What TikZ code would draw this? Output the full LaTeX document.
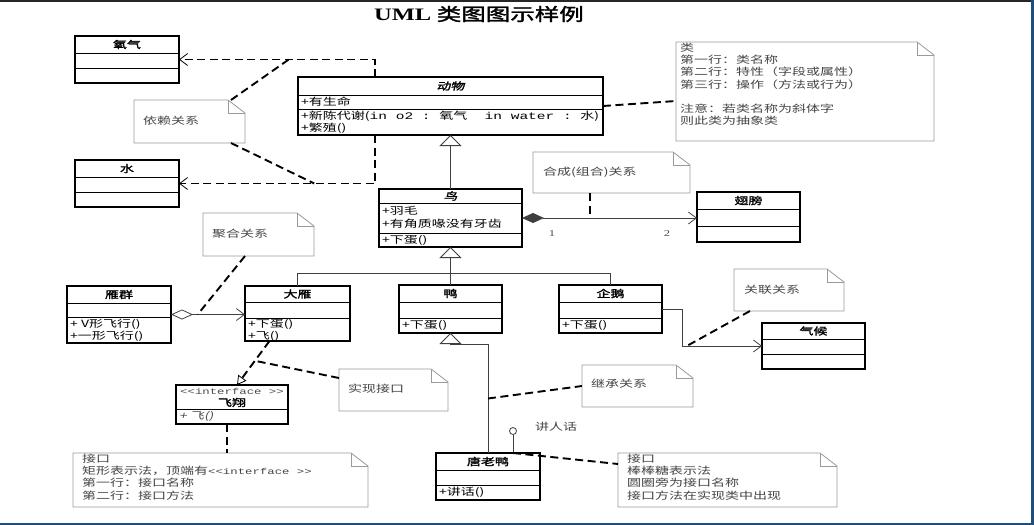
\documentclass[tikz,border=0pt]{standalone}
\usepackage{fontspec}
\setmainfont{Noto Sans CJK SC}[FakeStretch=1.4,AutoFakeSlant=0.22,AutoFakeBold=1.8]
\newfontfamily\serifnum{Liberation Serif}[FakeStretch=1.4]
\newfontfamily\monolatin{Liberation Mono}[FakeStretch=1.45]
\usetikzlibrary{arrows.meta,calc}
\definecolor{notegray}{HTML}{9A9A9A}
\definecolor{notetext}{HTML}{444444}
\definecolor{frameblue}{HTML}{1E4E7C}
% stereotype text, typed without the << ligature
\newcommand\stereo{{\monolatin\fontsize{8.5}{10}\selectfont<{}<interface~>{}>}}
% class box: name, left, top, right, bottom, first divider, second divider, title
\newcommand\umlclass[8]{%
  \node[cls,minimum width={#4-#2},minimum height={#5-#3}] (#1) at ({(#2+#4)/2},{(#3+#5)/2}) {};
  \draw[clsdiv] (#2,#6) -- (#4,#6) (#2,#7) -- (#4,#7);
  \node[cname] at ({(#2+#4)/2},{(#3+#6)/2}) {#8};}
% note with folded corner: name, left, top, right, bottom
\newcommand\umlnote[5]{%
  \node[notebox,minimum width={#4-#2},minimum height={#5-#3}] (#1) at ({(#2+#4)/2},{(#3+#5)/2}) {};
  \draw[noteline] (#1.north west) -- ($(#1.north east)+(-17,0)$) -- ($(#1.north east)+(0,13)$)
    -- (#1.south east) -- (#1.south west) -- cycle;
  \draw[noteline] ($(#1.north east)+(-17,0)$) -- ($(#1.north east)+(-17,13)$) -- ($(#1.north east)+(0,13)$);}
\begin{document}
\begin{tikzpicture}[x=1pt,y=-1pt,
  cls/.style={draw=black,line width=1.1pt,inner sep=0pt,outer sep=0pt},
  clsdiv/.style={line width=1pt},
  cname/.style={inner sep=0pt,font=\fontsize{10}{12}\selectfont\bfseries},
  member/.style={inner sep=0pt,anchor=west,font=\fontsize{10}{12}\selectfont},
  notebox/.style={inner sep=0pt,outer sep=0pt},
  noteline/.style={draw=notegray,line width=0.8pt},
  notetxt/.style={inner sep=0pt,anchor=north west,align=left,text=notetext,font=\fontsize{10}{12.2}\selectfont},
  dashlink/.style={line width=1.9pt,dash pattern=on 8pt off 4.5pt},
  solidlink/.style={draw=black!75,line width=0.8pt},
  opentip/.style={-{Straight Barb[length=8pt,width=12pt,line width=0.8pt]}},
  gentip/.style={-{Triangle[open,length=11pt,width=22pt,line width=0.8pt]}},
]
\useasboundingbox (0,0) rectangle (1034,525);
\fill[white] (0,0) rectangle (1034,525);
% frame edges
\fill[black!85] (0,0) rectangle (1034,1.8);
\fill[frameblue] (1030.5,0) rectangle (1034,525);
\fill[frameblue] (0,522.5) rectangle (1034,525);

% title
\node[inner sep=0pt,font=\fontsize{17.5}{20}\selectfont\bfseries] (title) at (479,14) {{\serifnum UML} 类图图示样例};

% classes
\umlclass{oxygen}{75}{36}{179}{83}{53}{68}{氧气}
\umlclass{water}{75}{160}{179}{207}{177}{192}{水}
\umlclass{animal}{298}{77}{603}{135}{95}{109}{\itshape 动物}
\node[member] at (301,102) {+有生命};
\node[member] at (301,116) {+新陈代谢({\monolatin in o2~:~}氧气{\monolatin ~~in water~:~}水)};
\node[member] at (301,128) {+繁殖()};
\umlclass{bird}{379}{189}{522}{247}{203}{233}{\itshape 鸟}
\node[member] at (382,211) {+羽毛};
\node[member] at (382,224) {+有角质喙没有牙齿};
\node[member] at (382,240) {+下蛋()};
\umlclass{wing}{697}{192}{800}{242}{209}{226}{翅膀}
\umlclass{geese}{67}{286}{171}{343}{303}{317}{雁群}
\node[member] at (70,324) {+\ V形飞行()};
\node[member] at (70,336) {+一形飞行()};
\umlclass{goose}{245}{286}{350}{341}{302}{318}{大雁}
\node[member] at (248,324) {+下蛋()};
\node[member] at (248,336) {+飞()};
\umlclass{duck}{399}{285}{502}{333}{302}{318}{鸭}
\node[member] at (402,325) {+下蛋()};
\umlclass{penguin}{559}{285}{662}{333}{302}{318}{企鹅}
\node[member] at (562,325) {+下蛋()};
\umlclass{climate}{762}{323}{865}{369}{339}{354}{气候}
\umlclass{donald}{436}{453}{540}{500}{470}{485}{唐老鸭}
\node[member] at (439,492) {+讲话()};
% interface box
\node[cls,minimum width=112,minimum height=39] (flying) at (232,404.5) {};
\draw[clsdiv] (176,409) -- (288,409);
\node[inner sep=0pt,text=black!70] at (232,391) {\stereo};
\node[cname] at (232,402.5) {飞翔};
\node[member,text=black!70] at (179,416.5) {\itshape + 飞()};

% notes
\umlnote{nDep}{134}{100}{245}{143}
\node[notetxt,anchor=west] at (143,121) {依赖关系};
\umlnote{nClass}{676}{42}{934}{141}
\node[notetxt] at (680,43) {类\\第一行：类名称\\第二行：特性（字段或属性）\\第三行：操作（方法或行为）\\[12.2pt]注意：若类名称为斜体字\\则此类为抽象类};
\umlnote{nComp}{533}{152}{690}{193}
\node[notetxt,anchor=west] at (543,172) {合成(组合)关系};
\umlnote{nAgg}{203}{213}{314}{256}
\node[notetxt,anchor=west] at (212,234) {聚合关系};
\umlnote{nAssoc}{734}{269}{844}{311}
\node[notetxt,anchor=west] at (744,290) {关联关系};
\umlnote{nReal}{339}{369}{448}{411}
\node[notetxt,anchor=west] at (348,389) {实现接口};
\umlnote{nInh}{582}{365}{693}{407}
\node[notetxt,anchor=west] at (591,384) {继承关系};
\umlnote{nIface}{73}{453}{368}{507}
\node[notetxt] at (82,454) {接口\\矩形表示法，顶端有\stereo\\第一行：接口名称\\第二行：接口方法};
\umlnote{nLolli}{618}{453}{837}{507}
\node[notetxt] at (627,454) {接口\\棒棒糖表示法\\圆圈旁为接口名称\\接口方法在实现类中出现};

% dependency: animal uses oxygen and water
\draw[dashlink,opentip] ($(animal.north west)+(77,0)$) |- coordinate[pos=0.72] (depO) (oxygen.east);
\draw[dashlink,opentip] ($(animal.south west)+(77,0)$) |- coordinate[pos=0.655] (depW) (water.east);
\draw[dashlink] ($(nDep.north east)+(-14,0)$) -- (depO);
\draw[dashlink] ($(nDep.south east)+(-14,0)$) -- (depW);
% class description note
\draw[dashlink] (animal.east) -- ($(nClass.south west)+(0,-40)$);

% generalization bird -> animal
\draw[solidlink,gentip] (bird.north) -- (animal.south);
% composition bird -> wing
\draw[solidlink,{Diamond[length=22pt,width=10pt]}-{Straight Barb[length=8pt,width=12pt,line width=0.8pt]}]
  (bird.east) -- coordinate[pos=0.39] (compPt) (bird.east -| wing.west);
\node[inner sep=0pt,text=black!70,font=\serifnum\fontsize{9}{10}\selectfont] (m1) at (552,234) {1};
\node[inner sep=0pt,text=black!70,font=\serifnum\fontsize{9}{10}\selectfont] (m2) at (667,234) {2};
\draw[dashlink] (compPt |- nComp.south) -- (compPt);

% generalization tree goose / duck / penguin -> bird
\draw[solidlink] (goose.north) -- ++(0,-13) -| (penguin.north);
\draw[solidlink,gentip] (duck.north) -- (bird.south);
% aggregation geese -> goose
\draw[solidlink,{Diamond[open,length=22pt,width=10pt,line width=0.8pt]}-{Straight Barb[length=8pt,width=12pt,line width=0.8pt]}]
  (geese.east) -- coordinate[pos=0.36] (aggPt) (geese.east -| goose.west);
\draw[dashlink] ($(nAgg.south west)+(42,0)$) -- (aggPt);
% association penguin -> climate
\draw[solidlink,opentip] (penguin.east) -- ++(20,0) |- coordinate[pos=0.53] (assPt) (climate.west);
\draw[dashlink] ($(nAssoc.south west)+(16,0)$) -- (assPt);
% realization goose -> flying
\draw[dashlink,-{Triangle[open,length=9pt,width=10pt,line width=0.8pt]}]
  ($(goose.south)+(-28,0)$) -- coordinate[pos=0.45] (realPt) ($(flying.north)+(5,0)$);
\draw[dashlink] ($(nReal.north west)+(0,9)$) -- (realPt);
\draw[dashlink] ($(flying.south)+(-5,0)$) -- ($(nIface.north west)+(154,0)$);
% generalization donald -> duck
\draw[solidlink,gentip] ($(donald.north west)+(52,0)$) |- coordinate[pos=0.25] (inhPt) ($(duck.south)+(0,11)$) -- (duck.south);
\draw[dashlink] (inhPt) -- (nInh.west);
% lollipop interface
\node[circle,draw=black!75,line width=0.8pt,minimum size=7pt,inner sep=0pt] (lolly) at (513,431) {};
\draw[solidlink] (lolly.south) -- (lolly.south |- donald.north) coordinate (stick);
\node[inner sep=0pt,anchor=west,text=notetext,font=\fontsize{10}{12}\selectfont] (talk) at (535,427) {讲人话};
\draw[dashlink] (stick) -- ($(nLolli.north west)+(0,11)$);
\end{tikzpicture}
\end{document}
